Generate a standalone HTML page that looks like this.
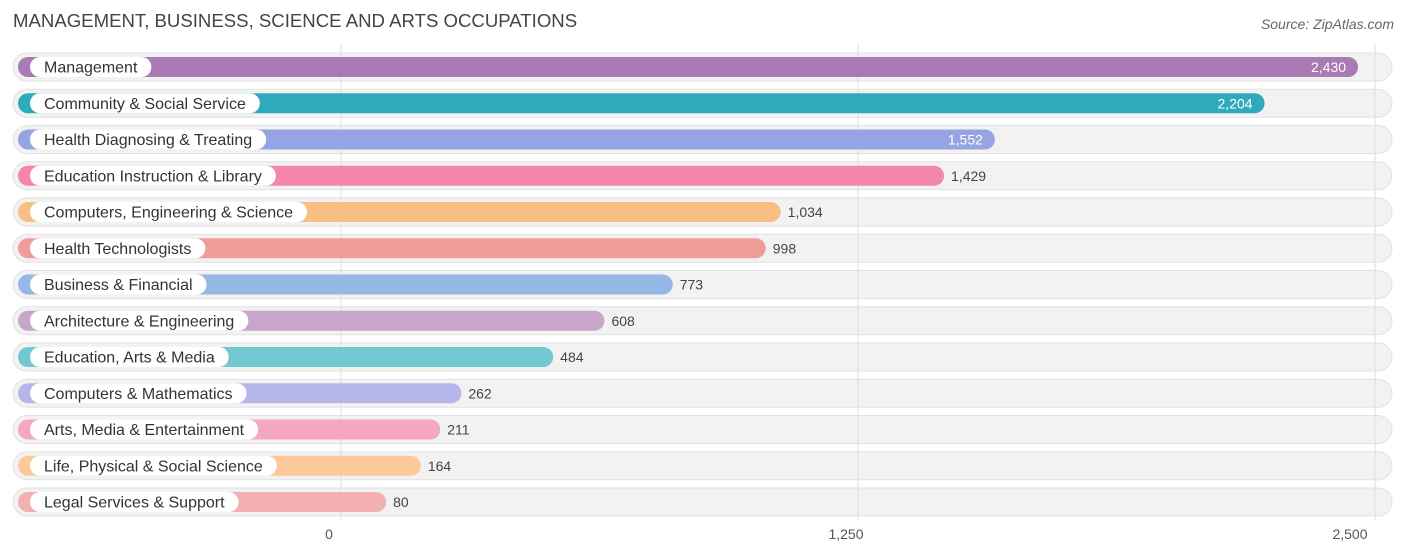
<!DOCTYPE html>
<html><head><meta charset="utf-8"><style>
body{margin:0;background:#fff;font-family:"Liberation Sans",sans-serif;}
#c{position:relative;width:1406px;height:558px;overflow:hidden;}
</style></head><body>
<div id="c">
<svg id="s" width="1406" height="558"></svg>
</div>
<script>
const categories=["Management","Community & Social Service","Health Diagnosing & Treating","Education Instruction & Library","Computers, Engineering & Science","Health Technologists","Business & Financial","Architecture & Engineering","Education, Arts & Media","Computers & Mathematics","Arts, Media & Entertainment","Life, Physical & Social Science","Legal Services & Support"];
const values=[2430,2204,1552,1429,1034,998,773,608,484,262,211,164,80];
const tickValues=[0,1250,2500];
const tickLabels=["0","1,250","2,500"];
const colors=["#a97bb5","#2eaabc","#96a4e3","#f487a8","#f8be82","#ee9d98","#96b8e6","#c8a6cc","#72c8d0","#b5b7ec","#f6a7c0","#fbca98","#f2b0b0"];
const NS="http://www.w3.org/2000/svg";
const svg=document.getElementById('s');
const k=(1375-341)/2500;
const xg=v=>341+v*k;
const xb=v=>353+v*k;
const yr=i=>67+i*36.25;
function mk(t,a,p){const e=document.createElementNS(NS,t);for(const n in a)e.setAttribute(n,a[n]);(p||svg).appendChild(e);return e;}
let t=mk('text',{x:13,y:27,'font-size':18.6,fill:'#444'});t.textContent="MANAGEMENT, BUSINESS, SCIENCE AND ARTS OCCUPATIONS";


t=mk('text',{x:1394,y:29,'font-size':14,fill:'#666','text-anchor':'end','font-style':'italic'});t.textContent="Source: ZipAtlas.com";


categories.forEach((c,i)=>{
  const y=yr(i);
  const bg=mk('rect',{x:13,y:y-14,width:1379,height:28,rx:14,fill:'#f2f2f2',stroke:'#e2e2e2'});
  
  
});
tickValues.forEach((v,i)=>{
  const l=mk('line',{x1:xg(v),x2:xg(v),y1:44,y2:520,stroke:'#ddd'});
  
  
  const tx=mk('text',{x:i==2?xg(v)-25:xg(v)-12,y:539,'font-size':14,fill:'#555','text-anchor':'middle'});
  tx.textContent=tickLabels[i];
  
  
});
categories.forEach((c,i)=>{
  const y=yr(i),v=values[i],end=xb(v);
  const b=mk('rect',{x:18,y:y-10,width:end-18,height:20,rx:10,fill:colors[i]});
  
  
  const lt=mk('text',{x:44,y:y+5.5,'font-size':16,fill:'#333'});lt.textContent=c;
  const w=lt.getComputedTextLength();
  const p=mk('rect',{x:30,y:y-10,width:w+28,height:20,rx:10,fill:'#fff'});
  svg.insertBefore(p,lt);
  
  
  
  
  const inside=i<3;
  const vt=mk('text',{x:inside?end-12:end+7,y:y+5,'font-size':14,fill:inside?'#fff':'#444','text-anchor':inside?'end':'start'});
  vt.textContent=v.toLocaleString('en-US');
  
  
});
</script>
</body></html>
